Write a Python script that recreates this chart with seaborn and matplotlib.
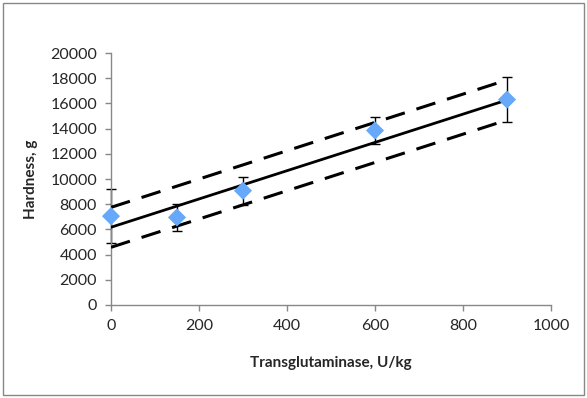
import matplotlib
matplotlib.use("Agg")
import matplotlib.pyplot as plt
import seaborn as sns
from matplotlib.patches import Rectangle

# data
enzyme = [0, 150, 300, 600, 900]
hardness = [7050, 6950, 9070, 13850, 16300]
hardness_err = [2130, 1040, 1110, 1050, 1770]

# fitted line and confidence limits (ends at x=0 and x=900)
line_x = [0, 900]
fit_y = [6170, 16270]
upper_y = [7750, 17860]
lower_y = [4580, 14680]

sns.set_style("white")
plt.rcParams['font.family'] = ['Lato', 'DejaVu Sans']

fig = plt.figure(figsize=(5.87, 3.98), dpi=100)
ax = fig.add_axes([111/587, 1 - 305/398, (551-111)/587, (305-53)/398])

ax.errorbar(enzyme, hardness, yerr=hardness_err, fmt='none', ecolor='black',
            elinewidth=1, capsize=3.8, capthick=1, zorder=2, clip_on=False)
sns.lineplot(x=line_x, y=fit_y, ax=ax, color='black', linewidth=2, zorder=3)
sns.lineplot(x=line_x, y=upper_y, ax=ax, color='black', linewidth=2.2,
             zorder=3).lines[-1].set_dashes([6.5, 4])
sns.lineplot(x=line_x, y=lower_y, ax=ax, color='black', linewidth=2.2,
             zorder=3).lines[-1].set_dashes([6.5, 4])
sns.scatterplot(x=enzyme, y=hardness, ax=ax, marker='D', s=85, color='#66A8FA',
                edgecolor='none', zorder=4, clip_on=False)

ax.set_xlim(0, 1000)
ax.set_ylim(0, 20000)
ax.set_xticks(range(0, 1001, 200))
ax.set_yticks(range(0, 20001, 2000))
ax.tick_params(axis='both', labelsize=11.5, length=4, width=1, color='#888888',
               direction='out', left=True, bottom=True, pad=6)
for s in ['top', 'right']:
    ax.spines[s].set_visible(False)
for s in ['left', 'bottom']:
    ax.spines[s].set_color('#888888')
    ax.spines[s].set_linewidth(1)

ax.set_xlabel('Transglutaminase, U/kg', fontsize=11, fontweight='bold', labelpad=17)
ax.set_ylabel('Hardness, g', fontsize=11, fontweight='bold', labelpad=9)

fig.patches.append(Rectangle((3/587, 3/398), 581/587, 392/398, transform=fig.transFigure,
                             fill=False, edgecolor='#888888', linewidth=1))

fig.savefig('out.png', dpi=100)
